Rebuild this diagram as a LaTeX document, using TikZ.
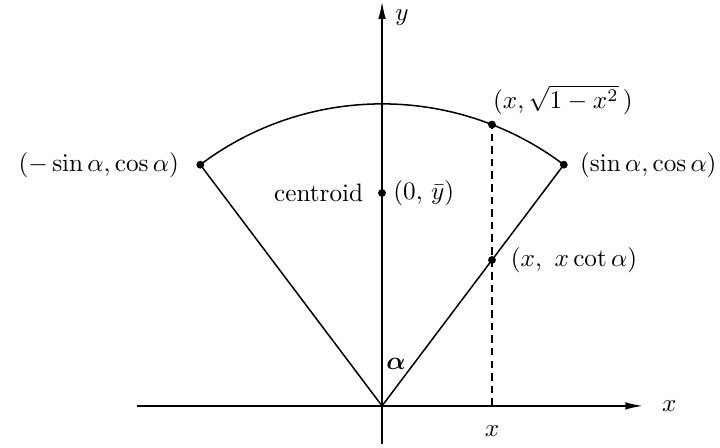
\documentclass[tikz,border=0pt]{standalone}
\usepackage{amsmath}
\usetikzlibrary{arrows.meta, positioning}

\tikzset{
  pt/.style={circle, fill, inner sep=1.1pt},
  axis/.style={line width=0.7pt, -{Latex[length=7pt,width=3pt]}}
}

\begin{document}
\begin{tikzpicture}[x=4.21cm, y=4.21cm, line width=0.6pt]
    \useasboundingbox (-1.265,-0.139) rectangle (1.119,1.344);
    % axes
    \coordinate (O) at (0,0);
    \coordinate (xs) at (-0.811,0);
    \coordinate (xe) at (0.864,0);
    \coordinate (ys) at (0,-0.126);
    \coordinate (ye) at (0,1.34);
    \draw[axis] (xs) -- (xe);
    \draw[axis] (ys) -- (ye);
    \node[right=4pt of xe] (xlab) {$x$};
    \node[anchor=north, inner sep=0pt] (ylab) at (0.066,1.315) {$y$};
    % sector
    \node[pt] (pL) at (127:1) {};
    \node[pt] (pR) at (53:1) {};
    \draw (pL.center) -- (O) -- (pR.center);
    \draw (pR.center) arc[start angle=53, end angle=127, radius=1];
    \node[left=3pt of pL] (lblL) {$(-\sin\alpha, \cos\alpha)$};
    \node[right=1pt of pR] (lblR) {$(\sin\alpha, \cos\alpha)$};
    \node (alab) at (0.046,0.14) {$\boldsymbol{\alpha}$};
    % centroid
    \node[pt] (cen) at (0,0.705) {};
    \node[left=2pt of cen] (cenL) {centroid};
    \node[right=-1pt of cen] (cenR) {$(0,\,\bar{y})$};
    % strip at x
    \coordinate (xf) at (0.364,0);
    \node[pt] (pA) at (0.364,{sqrt(1-0.364^2)}) {};
    \node[pt] (pB) at (0.364,{0.364*cot(37)}) {};
    \draw[dash pattern=on 3pt off 2pt] (xf) -- (pA.center);
    \node[above right=-1pt and -4.5pt of pA] (lblA) {$(x, \sqrt{1-x^2}\,)$};
    \node[right=2pt of pB] (lblB) {$(x,\ x\cot\alpha)$};
    \node[below=4pt of xf] (xtick) {$x$};
\end{tikzpicture}
\end{document}
